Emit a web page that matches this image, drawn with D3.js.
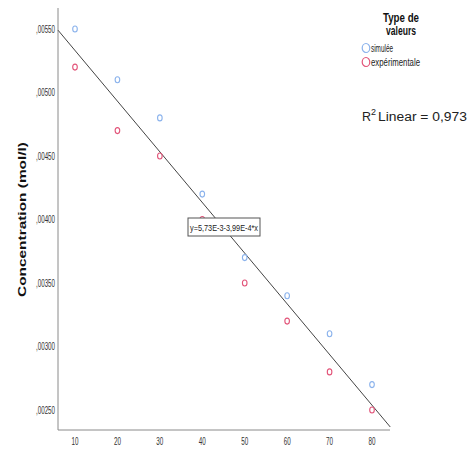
<!DOCTYPE html>
<html>
<head>
<meta charset="utf-8">
<script src="https://cdn.jsdelivr.net/npm/d3@7"></script>
<style>
  body { margin: 0; background: #fff; }
</style>
</head>
<body>
<div id="chart"></div>
<script>
// valeurs
const temps = [10, 20, 30, 40, 50, 60, 70, 80]
const simulee = [0.00550, 0.00510, 0.00480, 0.00420, 0.00370, 0.00340, 0.00310, 0.00270]
const experimentale = [0.00520, 0.00470, 0.00450, 0.00400, 0.00350, 0.00320, 0.00280, 0.00250]
const yTicks = [0.00250, 0.00300, 0.00350, 0.00400, 0.00450, 0.00500, 0.00550]
const xTicks = [10, 20, 30, 40, 50, 60, 70, 80]
const fit = {a: 5.73e-3, b: -3.99e-5, x0: 6, x1: 84.3}
const fitLabel = "y=5,73E-3-3,99E-4*x"
const r2Label = "0,973"
const legendTitle = ["Type de", "valeurs"]
const series = [
    {name: "simulée", values: simulee, color: "#8ab2ec"},
    {name: "expérimentale", values: experimentale, color: "#e25479"}
]

const width = 470, height = 455
const m = {left: 58, right: 390, top: 8, bottom: 430}
const font = "'Liberation Sans', Arial, sans-serif"

var x = d3.scaleLinear()
    .domain([10, 80])
    .range([75, 372])

var y = d3.scaleLinear()
    .domain([0.0025, 0.0055])
    .range([410, 29])

const svg = d3.select("#chart").append("svg")
    .attr("width", width)
    .attr("height", height)
    .attr("font-family", font)

// la police d'origine est étroite: on serre le texte à la largeur lue
function squeeze(sel, w) {
    sel.attr("textLength", w).attr("lengthAdjust", "spacingAndGlyphs")
}

// axes
svg.append("line")
    .attr("x1", m.left).attr("x2", m.left)
    .attr("y1", m.top).attr("y2", m.bottom)
    .attr("stroke", "#8a8a8a")
svg.append("line")
    .attr("x1", m.left).attr("x2", m.right)
    .attr("y1", m.bottom).attr("y2", m.bottom)
    .attr("stroke", "#8a8a8a")

svg.selectAll(".ytick")
    .data(yTicks)
    .enter().append("text")
    .attr("class", "ytick")
    .attr("x", m.left - 22)
    .attr("y", d => y(d))
    .attr("dy", "0.35em")
    .attr("font-size", 10)
    .attr("fill", "#333")
    .text(d => "," + d3.format(".5f")(d).slice(2))
    .call(squeeze, 19)

svg.selectAll(".xtick")
    .data(xTicks)
    .enter().append("text")
    .attr("class", "xtick")
    .attr("x", d => x(d) - 3.5)
    .attr("y", m.bottom + 15)
    .attr("font-size", 10)
    .attr("fill", "#333")
    .text(d => d)
    .call(squeeze, 7)

svg.append("text")
    .attr("transform", "translate(26,297) rotate(-90)")
    .attr("font-weight", "bold")
    .attr("font-size", 11.5)
    .attr("fill", "#111")
    .text("Concentration (mol/l)")
    .call(squeeze, 155)

// droite de régression
svg.append("line")
    .attr("x1", x(fit.x0)).attr("y1", y(fit.a + fit.b * fit.x0))
    .attr("x2", x(fit.x1)).attr("y2", y(fit.a + fit.b * fit.x1))
    .attr("stroke", "#444")
    .attr("stroke-width", 1)

// points
series.forEach(s => {
    svg.append("g").selectAll("ellipse")
        .data(s.values)
        .enter().append("ellipse")
        .attr("cx", (d, i) => x(temps[i]))
        .attr("cy", d => y(d))
        .attr("rx", 2.3)
        .attr("ry", 3)
        .attr("fill", "none")
        .attr("stroke", s.color)
        .attr("stroke-width", 1.1)
})

// étiquette de l'équation
const lab = svg.append("g").attr("transform", "translate(188,218)")
lab.append("rect")
    .attr("width", 72).attr("height", 18)
    .attr("fill", "#fff")
    .attr("stroke", "#555")
lab.append("text")
    .attr("x", 2).attr("y", 12.5)
    .attr("font-size", 9.5)
    .attr("fill", "#222")
    .text(fitLabel)
    .call(squeeze, 68)

// légende
svg.selectAll(".ltitle")
    .data(legendTitle)
    .enter().append("text")
    .attr("class", "ltitle")
    .attr("x", (d, i) => i ? 386 : 383)
    .attr("y", (d, i) => 22 + i * 13)
    .attr("font-weight", "bold")
    .attr("font-size", 12)
    .attr("fill", "#111")
    .text(d => d)
    .each(function(d, i) { d3.select(this).call(squeeze, i ? 30 : 36) })

const leg = svg.selectAll(".leg")
    .data(series)
    .enter().append("g")
    .attr("transform", (d, i) => `translate(366,${48 + i * 14})`)
leg.append("ellipse")
    .attr("rx", 3.8).attr("ry", 4.5)
    .attr("fill", "none")
    .attr("stroke", d => d.color)
    .attr("stroke-width", 1.2)
leg.append("text")
    .attr("x", 5)
    .attr("y", 3.5)
    .attr("font-size", 10)
    .attr("fill", "#222")
    .text(d => d.name)
    .each(function(d, i) { d3.select(this).call(squeeze, i ? 49 : 22) })

svg.append("text")
    .attr("x", 362).attr("y", 121)
    .attr("font-size", 12.5)
    .attr("fill", "#222")
    .text("R")
svg.append("text")
    .attr("x", 371).attr("y", 115)
    .attr("font-size", 9)
    .attr("fill", "#222")
    .text("2")
svg.append("text")
    .attr("x", 378).attr("y", 121)
    .attr("font-size", 12.5)
    .attr("fill", "#222")
    .text("Linear = " + r2Label)
    .call(squeeze, 89)
</script>
</body>
</html>
